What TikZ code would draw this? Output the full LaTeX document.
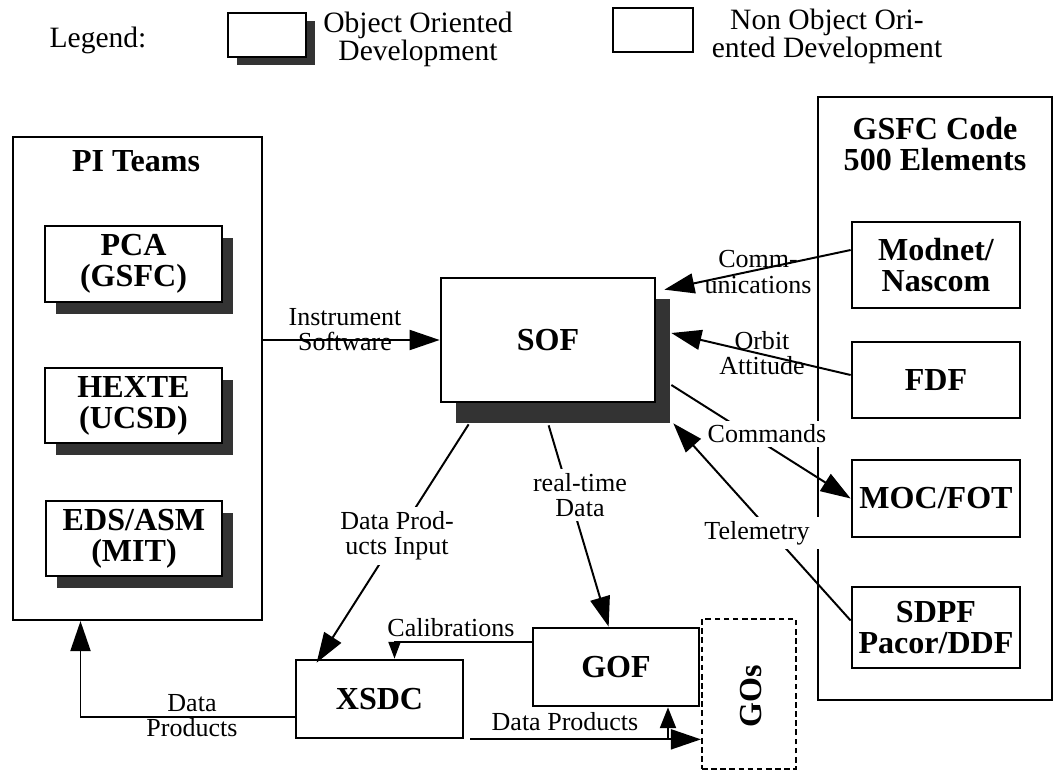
\documentclass[tikz,border=0pt]{standalone}
\usepackage{fontspec}
\setmainfont{Liberation Serif}
\usetikzlibrary{arrows.meta,shadows}

\begin{document}
\begin{tikzpicture}[x=0.025cm, y=-0.025cm,
		box/.style={draw, line width=1.9pt, fill=white, inner sep=0pt, align=center, font=\fontsize{22.8}{22}\selectfont\bfseries},
		oosmall/.style={box, drop shadow={shadow xshift=0.225cm, shadow yshift=-0.2cm, fill=black!80, opacity=1}},
		oomid/.style={box, drop shadow={shadow xshift=0.275cm, shadow yshift=-0.3cm, fill=black!80, opacity=1}},
		oobig/.style={box, drop shadow={shadow xshift=0.375cm, shadow yshift=-0.525cm, fill=black!80, opacity=1}},
		group/.style={draw, line width=1.4pt, inner sep=0pt},
		title/.style={align=center, font=\fontsize{22.8}{22}\selectfont\bfseries},
		lbl/.style={align=center, inner sep=1pt, font=\fontsize{18.5}{17.8}\selectfont},
		lblw/.style={lbl, fill=white, inner sep=3pt},
		leg/.style={align=center, font=\fontsize{21}{14.5}\selectfont},
		arr/.style={line width=1.4pt, -{Triangle[length=0.75cm, width=0.5cm]}},
		marr/.style={line width=1.4pt, -{Triangle[length=0.52cm, width=0.4cm]}},
		sarr/.style={line width=1.4pt, -{Triangle[length=0.42cm, width=0.3cm]}}]
		\useasboundingbox (0,0) rectangle (1054,771);

		% legend
		\node[leg] (legend) at (98,40) {Legend:};
		\node[oosmall, minimum width=1.95cm, minimum height=1.1cm] (legoo) at (267,35) {};
		\node[leg] (legootxt) at (418,39) {Object Oriented\\Development};
		\node[box, minimum width=2cm, minimum height=1.1cm] (legnon) at (653,30) {};
		\node[leg] (legnontxt) at (827,36) {Non Object Ori-\\ented Development};

		% PI teams
		\node[group, minimum width=6.225cm, minimum height=12.075cm] (pi) at (137.5,378.5) {};
		\node[title] (pititle) at (136,161) {PI Teams};
		\node[oomid, minimum width=4.425cm, minimum height=1.9cm] (pca) at (133.5,264) {PCA\\(GSFC)};
		\node[oomid, minimum width=4.425cm, minimum height=1.875cm] (hexte) at (133.5,405.5) {HEXTE\\(UCSD)};
		\node[oomid, minimum width=4.4cm, minimum height=1.875cm] (eds) at (134,538.5) {EDS/ASM\\(MIT)};

		% GSFC code 500
		\node[group, minimum width=5.85cm, minimum height=15.075cm] (gsfc) at (935,398.5) {};
		\node[title] (gsfctitle) at (935,144) {GSFC Code\\500 Elements};
		\node[box, minimum width=4.2cm, minimum height=2.15cm] (modnet) at (936,265) {Modnet/\\Nascom};
		\node[box, minimum width=4.2cm, minimum height=1.9cm] (fdf) at (936,380) {FDF};
		\node[box, minimum width=4.2cm, minimum height=1.925cm] (moc) at (936,498.5) {MOC/FOT};
		\node[box, minimum width=4.2cm, minimum height=2.025cm] (sdpf) at (936,627.5) {SDPF\\Pacor/DDF};

		\node[oobig, minimum width=5.35cm, minimum height=3.1cm] (sof) at (548,340) {SOF};
		\node[box, minimum width=4.175cm, minimum height=1.95cm] (xsdc) at (379.5,699) {XSDC};
		\node[box, minimum width=4.15cm, minimum height=1.95cm] (gof) at (616,667) {GOF};
		\node[draw, line width=1.5pt, dash pattern=on 4pt off 2.5pt, minimum width=2.35cm, minimum height=3.75cm] (gos) at (749,694) {};
		\node[title, rotate=90] (gostxt) at (751,696) {GOs};

		% connectors
		\draw[arr] (pi.east |- sof.west) -- (sof.west);
		\node[lbl] (instr) at (345,330) {Instrument\\Software};

		\draw[arr] ([shift={(0,-15)}]modnet.west) -- ([shift={(8,13)}]sof.north east);
		\node[lbl] (comm) at (758,272) {Comm-\\unications};

		\draw[arr] ([shift={(0,-5)}]fdf.west) -- ([shift={(15,-7)}]sof.east);
		\node[lbl] (orbit) at (762,353) {Orbit\\Attitude};

		\draw[arr] ([shift={(15,45)}]sof.east) -- (moc.west);
		\node[lblw] (cmd) at (767,434) {Commands};

		\draw[arr] ([shift={(0,-7)}]sdpf.west) -- ([shift={(17,20)}]sof.south east);
		\node[lblw, inner xsep=9pt] (telem) at (757,533) {Telemetry};

		\draw[arr] ([shift={(29,21)}]sof.south west) -- ([shift={(22,4)}]xsdc.north west);
		\node[lblw] (dpi) at (397,536) {Data Prod-\\ucts Input};

		\draw[arr] ([shift={(109,22)}]sof.south west) -- ([shift={(77,0)}]gof.north west);
		\node[lblw] (rtd) at (580,495) {real-time\\Data};

		\draw[sarr] ([shift={(0,-25)}]gof.west) -| ([shift={(15,0)}]xsdc.north);
		\node[lbl] (calib) at (451,628) {Calibrations};

		\draw[arr] ([shift={(0,18)}]xsdc.west) -| ([shift={(-57,0)}]pi.south);
		\node[lbl] (dpback) at (192,716) {Data\\Products};

		\draw[arr] ([shift={(6,0)}]xsdc.south east) -- (gos.west |- xsdc.south);
		\node[lbl] (dpout) at (565,722) {Data Products};
		\coordinate (tap) at ([shift={(52,32)}]gof.south);
		\draw[marr] (tap) -- ([shift={(52,0)}]gof.south);
	\end{tikzpicture}
\end{document}
